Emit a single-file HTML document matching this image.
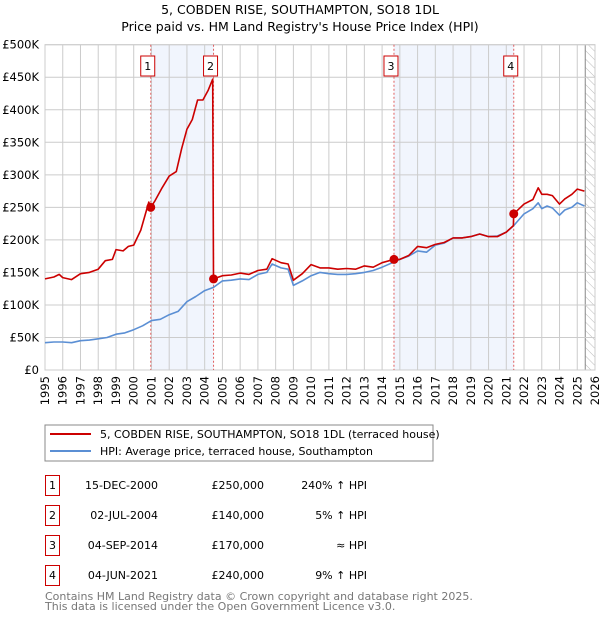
<!DOCTYPE html>
<html><head><meta charset="utf-8"><style>
body{margin:0;background:#fff;font-family:"DejaVu Sans","Liberation Sans",sans-serif;}
svg text{font-family:"DejaVu Sans","Liberation Sans",sans-serif;}
</style></head><body>
<svg id="c" width="600" height="620" xmlns="http://www.w3.org/2000/svg">
<defs><pattern id="hatch" width="6" height="6" patternUnits="userSpaceOnUse" patternTransform="rotate(-45)"><line x1="0" y1="0" x2="0" y2="6" stroke="#bbb" stroke-width="1"/></pattern></defs>
<text x="300" y="14" text-anchor="middle" font-size="12.5">5, COBDEN RISE, SOUTHAMPTON, SO18 1DL</text>
<text x="300" y="31" text-anchor="middle" font-size="12.5">Price paid vs. HM Land Registry's House Price Index (HPI)</text>
<g id="plot"></g>
<rect x="45" y="425" width="388" height="36" fill="#fff" stroke="#888"/>
<line x1="50" y1="434" x2="91" y2="434" stroke="#cc0000" stroke-width="2"/>
<text x="100" y="438" font-size="11">5, COBDEN RISE, SOUTHAMPTON, SO18 1DL (terraced house)</text>
<line x1="50" y1="451" x2="91" y2="451" stroke="#5b8fd4" stroke-width="2"/>
<text x="100" y="455" font-size="11">HPI: Average price, terraced house, Southampton</text>
<g id="table"></g>
<text x="45" y="600" font-size="11" fill="#777">Contains HM Land Registry data © Crown copyright and database right 2025.</text>
<text x="45" y="610" font-size="11" fill="#777">This data is licensed under the Open Government Licence v3.0.</text>
</svg>
<script>
const hpiYears=[1995,1995.5,1996,1996.5,1997,1997.5,1998,1998.5,1999,1999.5,2000,2000.5,2001,2001.5,2002,2002.5,2003,2003.5,2004,2004.5,2005,2005.5,2006,2006.5,2007,2007.5,2007.8,2008.3,2008.7,2009,2009.5,2010,2010.5,2011,2011.5,2012,2012.5,2013,2013.5,2014,2014.67,2015,2015.5,2016,2016.5,2017,2017.5,2018,2018.5,2019,2019.5,2020,2020.5,2021,2021.42,2022,2022.5,2022.8,2023,2023.3,2023.6,2024,2024.3,2024.7,2025,2025.4];
const hpiValues=[42,43,43,42,45,46,48,50,55,57,62,68,76,78,85,90,105,113,122,127,137,138,140,139,147,150,163,157,155,130,137,145,150,148,147,147,148,150,153,158,166,170,175,183,181,192,195,203,203,205,209,205,206,212,222,240,248,257,248,252,249,238,246,250,257,252];
const priceYears=[1995,1995.5,1995.8,1996,1996.5,1997,1997.5,1998,1998.4,1998.8,1999,1999.4,1999.7,2000,2000.4,2000.85,2000.96,2001.2,2001.6,2002,2002.4,2002.7,2003,2003.3,2003.6,2003.9,2004.2,2004.45,2004.5,2005,2005.5,2006,2006.5,2007,2007.5,2007.8,2008.3,2008.7,2009,2009.5,2010,2010.5,2011,2011.5,2012,2012.5,2013,2013.5,2014,2014.67,2015,2015.5,2016,2016.5,2017,2017.5,2018,2018.5,2019,2019.5,2020,2020.5,2021,2021.4,2021.42,2022,2022.5,2022.8,2023,2023.3,2023.6,2024,2024.3,2024.7,2025,2025.4];
const priceValues=[140,143,147,142,139,148,150,155,168,170,185,183,190,192,215,258,250,260,280,298,305,340,370,385,415,415,430,447,140,145,146,149,147,153,155,171,165,163,138,148,162,157,157,155,156,155,160,158,165,170,170,176,190,188,193,196,203,203,205,209,205,205,212,222,240,255,262,280,270,270,268,255,263,270,278,275];
const sales=[{n:"1",year:2000.96,price:250},{n:"2",year:2004.5,price:140},{n:"3",year:2014.67,price:170},{n:"4",year:2021.42,price:240}];
const yTicks=[0,50,100,150,200,250,300,350,400,450,500];
const yTickLabels=["£0","£50K","£100K","£150K","£200K","£250K","£300K","£350K","£400K","£450K","£500K"];
const xTicks=[1995,1996,1997,1998,1999,2000,2001,2002,2003,2004,2005,2006,2007,2008,2009,2010,2011,2012,2013,2014,2015,2016,2017,2018,2019,2020,2021,2022,2023,2024,2025,2026];
const tableDates=["15-DEC-2000","02-JUL-2004","04-SEP-2014","04-JUN-2021"];
const tablePrices=["£250,000","£140,000","£170,000","£240,000"];
const tableHpi=["240% ↑ HPI","5% ↑ HPI","≈ HPI","9% ↑ HPI"];

const NS="http://www.w3.org/2000/svg";
const L=45,R=595,T=44.7,B=370;
const X=v=>L+(v-1995)/31*(R-L);
const Y=v=>B-v/500*(B-T);
function mk(p,tag,a){const e=document.createElementNS(NS,tag);for(const k in a)e.setAttribute(k,a[k]);p.appendChild(e);return e;}
const plot=document.getElementById('plot');
for(const [a,b] of [[0,1],[2,3]]){
 const r=mk(plot,'rect',{x:X(sales[a].year),y:T,width:X(sales[b].year)-X(sales[a].year),height:B-T,fill:'#eef3fc',opacity:0.8});
 
 
}
const hz=mk(plot,'rect',{x:X(2025.45),y:T,width:R-X(2025.45),height:B-T,fill:'url(#hatch)'});


mk(plot,'line',{x1:X(2025.45),x2:X(2025.45),y1:T,y2:B,stroke:'#888','stroke-width':1});
xTicks.forEach(v=>{
 const g=mk(plot,'line',{x1:X(v),x2:X(v),y1:T,y2:B,stroke:'#ccc','stroke-width':1});
 
 
 const t=mk(plot,'text',{x:0,y:0,'text-anchor':'end','font-size':11.5,transform:'translate('+(X(v)+4)+',376) rotate(-90)'});
 t.textContent=v;
 
 
});
yTicks.forEach((v,i)=>{
 const g=mk(plot,'line',{x1:L,x2:R,y1:Y(v),y2:Y(v),stroke:'#ccc','stroke-width':1});
 
 
 const t=mk(plot,'text',{x:39,y:Y(v)+4,'text-anchor':'end','font-size':11.5});
 t.textContent=yTickLabels[i];
 
 
});
mk(plot,'rect',{x:L,y:T,width:R-L,height:B-T,fill:'none',stroke:'#ccc'});
sales.forEach(s=>{
 const l=mk(plot,'line',{x1:X(s.year),x2:X(s.year),y1:T,y2:B,stroke:'#e06060','stroke-width':1,'stroke-dasharray':'2,2'});
 
 
});
function path(xs,ys,color,name){
 const d=xs.map((x,i)=>(i?'L':'M')+X(x).toFixed(1)+','+Y(ys[i]).toFixed(1)).join('');
 const p=mk(plot,'path',{d:d,fill:'none',stroke:color,'stroke-width':1.6,'stroke-linejoin':'round'});
 
 
}
path(hpiYears,hpiValues,'#5b8fd4','hpi-line');
path(priceYears,priceValues,'#cc0000','price-line');
sales.forEach(s=>{
 const c=mk(plot,'circle',{cx:X(s.year),cy:Y(s.price),r:4.5,fill:'#cc0000'});
 
 
 const b=mk(plot,'rect',{x:X(s.year)-10,y:56,width:14,height:20,fill:'#fff',stroke:'#cc0000'});
 
 
 const t=mk(plot,'text',{x:X(s.year)-3,y:70,'text-anchor':'middle','font-size':11});
 t.textContent=s.n;
 
 
});
const tb=document.getElementById('table');
sales.forEach((s,i)=>{
 const y=475+i*30;
 const b=mk(tb,'rect',{x:45.5,y:y+0.5,width:14,height:20,fill:'#fff',stroke:'#cc0000'});
 
 
 const n=mk(tb,'text',{x:52.5,y:y+14,'text-anchor':'middle','font-size':11});n.textContent=s.n;
 
 
 const d=mk(tb,'text',{x:158,y:y+14,'text-anchor':'end','font-size':11});d.textContent=tableDates[i];
 
 
 const p=mk(tb,'text',{x:264,y:y+14,'text-anchor':'end','font-size':11});p.textContent=tablePrices[i];
 
 
 const h=mk(tb,'text',{x:367,y:y+14,'text-anchor':'end','font-size':11});h.textContent=tableHpi[i];
 
 
});
</script>
</body></html>
